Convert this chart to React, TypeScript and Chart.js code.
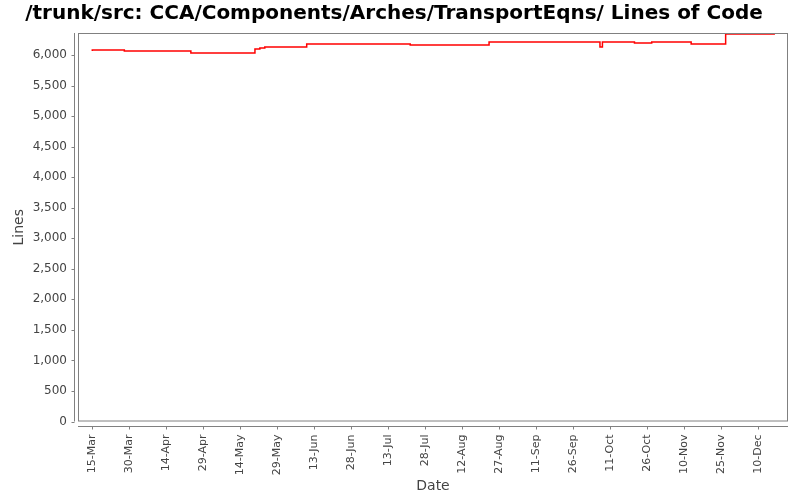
import React, {useEffect, useRef} from "react";
import {Chart, registerables} from "chart.js";

Chart.register(...registerables);

// change points of the line count (year is not shown on the chart)
const commitDates = [
    "2009-03-15", "2009-03-15", "2009-03-28", "2009-04-24", "2009-05-20", "2009-05-22",
    "2009-05-24", "2009-06-10", "2009-07-22", "2009-08-23", "2009-10-07", "2009-10-08",
    "2009-10-21", "2009-10-28", "2009-11-13", "2009-11-27", "2009-12-17",
];
const lineCounts = [
    6066, 6082, 6066, 6033, 6099, 6115,
    6131, 6180, 6164, 6213, 6131, 6213,
    6197, 6213, 6180, 6344, 6344,
];

const tickLabels = [
    "15-Mar", "30-Mar", "14-Apr", "29-Apr", "14-May", "29-May", "13-Jun", "28-Jun",
    "13-Jul", "28-Jul", "12-Aug", "27-Aug", "11-Sep", "26-Sep", "11-Oct", "26-Oct",
    "10-Nov", "25-Nov", "10-Dec",
];
const tickStepDays = 15;
const yTicks = [0, 500, 1000, 1500, 2000, 2500, 3000, 3500, 4000, 4500, 5000, 5500, 6000];

const title = "/trunk/src: CCA/Components/Arches/TransportEqns/ Lines of Code";

const DAY = 24 * 3600 * 1000;
const baseDate = Date.parse("2009-03-15T00:00:00Z");
const toDay = (d: string) => (Date.parse(d + "T00:00:00Z") - baseDate) / DAY;

const AXIS_GRAY = "#808080";
const LABEL_GRAY = "#444444";

// plot frame plus the offset axis lines with their tick marks
const framePlugin = {
    id: "frame",
    afterDraw(chart: any) {
        const {ctx, chartArea} = chart;
        const {left, right, top, bottom} = chartArea;
        ctx.save();
        ctx.strokeStyle = AXIS_GRAY;
        ctx.lineWidth = 1;
        ctx.strokeRect(left + 0.5, top + 0.5, right - left - 1, bottom - top - 1);

        const xs = chart.scales.x;
        const ys = chart.scales.y;
        const ax = Math.round(bottom + 4) + 0.5;
        ctx.beginPath();
        ctx.moveTo(left, ax);
        ctx.lineTo(right, ax);
        xs.ticks.forEach((t: any) => {
            const px = Math.round(xs.getPixelForValue(t.value)) + 0.5;
            ctx.moveTo(px, ax);
            ctx.lineTo(px, ax + 3);
        });
        const ay = Math.round(left - 4) + 0.5;
        ctx.moveTo(ay, top);
        ctx.lineTo(ay, bottom);
        ys.ticks.forEach((t: any) => {
            const py = Math.round(ys.getPixelForValue(t.value)) + 0.5;
            ctx.moveTo(ay, py);
            ctx.lineTo(ay - 3, py);
        });
        ctx.stroke();
        ctx.restore();
    },
};

const LinesOfCodeChart: React.FC = () => {
    const canvasRef = useRef<HTMLCanvasElement>(null);

    useEffect(() => {
        if (!canvasRef.current) return;
        const ctx = canvasRef.current.getContext("2d");
        if (!ctx) return;

        const points = commitDates.map((d, i) => ({x: toDay(d), y: lineCounts[i]}));

        const chart = new Chart(ctx, {
            type: "line",
            data: {
                datasets: [
                    {
                        label: "Lines",
                        data: points,
                        borderColor: "#ff0000",
                        borderWidth: 1.5,
                        pointRadius: 0,
                        stepped: true,
                        fill: false,
                    },
                ],
            },
            options: {
                animation: false,
                responsive: true,
                maintainAspectRatio: false,
                layout: {
                    padding: {top: 0, right: 12, left: 0, bottom: 0},
                },
                plugins: {
                    legend: {display: false},
                    tooltip: {enabled: false},
                    title: {
                        display: true,
                        text: title,
                        color: "#000000",
                        font: {family: "DejaVu Sans", size: 20, weight: "bold"},
                        padding: {top: 2, bottom: 7},
                    },
                },
                scales: {
                    x: {
                        type: "linear",
                        min: -5.8,
                        max: 282.3,
                        grid: {display: false, drawTicks: false},
                        border: {display: false},
                        afterBuildTicks: (scale: any) => {
                            scale.ticks = tickLabels.map((_, i) => ({value: i * tickStepDays}));
                        },
                        afterFit: (scale: any) => {
                            scale.height = 78.5;
                        },
                        ticks: {
                            autoSkip: false,
                            minRotation: 90,
                            maxRotation: 90,
                            padding: 13,
                            color: LABEL_GRAY,
                            font: {family: "DejaVu Sans", size: 11},
                            callback: (value: any) => tickLabels[Math.round(Number(value) / tickStepDays)] ?? "",
                        },
                        title: {
                            display: true,
                            text: "Date",
                            color: LABEL_GRAY,
                            font: {family: "DejaVu Sans", size: 14},
                            padding: {top: 0, bottom: 5.5},
                        },
                    },
                    y: {
                        type: "linear",
                        min: 0,
                        max: 6361,
                        grid: {display: false, drawTicks: false},
                        border: {display: false},
                        afterBuildTicks: (scale: any) => {
                            scale.ticks = yTicks.map((v) => ({value: v}));
                        },
                        afterFit: (scale: any) => {
                            scale.width = 78;
                        },
                        ticks: {
                            padding: 11,
                            color: LABEL_GRAY,
                            font: {family: "DejaVu Sans", size: 12},
                            callback: (value: any) => Number(value).toLocaleString("en-US"),
                        },
                        title: {
                            display: true,
                            text: "Lines",
                            color: LABEL_GRAY,
                            font: {family: "DejaVu Sans", size: 14},
                            padding: {top: 10.5, bottom: 0},
                        },
                    },
                },
            },
            plugins: [framePlugin],
        });

        return () => {
            chart.destroy();
        };
    }, []);

    return (
        <div style={{position: "absolute", left: 0, top: 0, width: 800, height: 500, background: "#ffffff"}}>
            <canvas ref={canvasRef}></canvas>
        </div>
    );
};

export default function App() {
    return <LinesOfCodeChart/>;
}
